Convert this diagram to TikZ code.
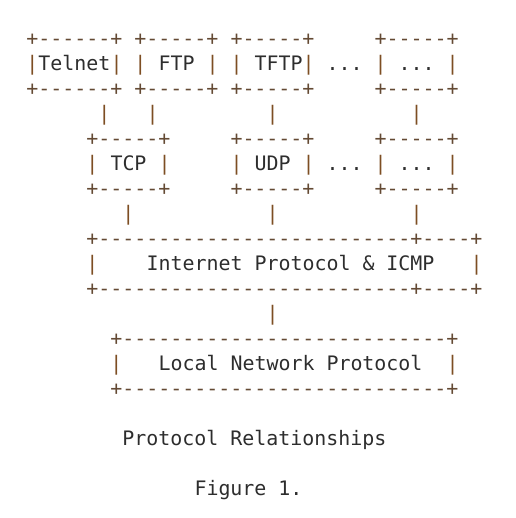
\documentclass[tikz,border=0pt]{standalone}
\usepackage{fontspec}
\setmonofont{DejaVu Sans Mono}
\usepackage{xcolor}
\definecolor{arttext}{RGB}{45,45,45}
\definecolor{artrule}{RGB}{100,74,52}
\definecolor{artpipe}{RGB}{125,78,35}
\tikzset{
  asciitext/.style={anchor=base west, inner sep=0pt, outer sep=0pt, text=arttext,
    font=\ttfamily\fontsize{14.95pt}{18pt}\selectfont},
  asciirule/.style={asciitext, text=artrule},
  asciipipe/.style={asciitext, text=artpipe}
}
\newcommand{\artbar}{\textcolor{artpipe}{|}}
% box as three lines of text: name, column, row, border, label
\newcommand{\artbox}[5]{%
  \node[asciirule] (#1-top) at (#2,#3) {#4};
  \node[asciitext] (#1) at (#2,#3+1) {\artbar#5\artbar};
  \node[asciirule] (#1-bot) at (#2,#3+2) {#4};
}

\begin{document}
\begin{tikzpicture}[x=9pt,y=-18.75pt]
  \useasboundingbox (-2.2083,-1.8) rectangle (40.7083,18.92);

  % applications
  \artbox{telnet}{0}{0}{+------+}{Telnet}
  \artbox{ftp}{9}{0}{+-----+}{~FTP~}
  \artbox{tftp}{17}{0}{+-----+}{~TFTP}
  \node[asciitext] (appgap) at (25,1) {...};
  \artbox{appmore}{29}{0}{+-----+}{~...~}

  % links to transport
  \foreach \c/\n in {6/telnettcp,10/ftptcp,20/tftpudp,32/appmoretp}
    \node[asciipipe] (\n) at (\c,3) {|};

  % transport
  \artbox{tcp}{5}{4}{+-----+}{~TCP~}
  \artbox{udp}{17}{4}{+-----+}{~UDP~}
  \node[asciitext] (tpgap) at (25,5) {...};
  \artbox{tpmore}{29}{4}{+-----+}{~...~}

  \foreach \c/\n in {8/tcpip,20/udpip,32/tpmoreip}
    \node[asciipipe] (\n) at (\c,7) {|};

  % internet
  \node[asciirule] (ip-top) at (5,8) {+--------------------------+----+};
  \node[asciitext] (ip) at (5,9) {\artbar~~~~Internet Protocol \& ICMP~~~\artbar};
  \node[asciirule] (ip-bot) at (5,10) {+--------------------------+----+};
  \node[asciipipe] (iplnp) at (20,11) {|};

  % local network
  \artbox{lnp}{7}{12}{+---------------------------+}{~~~Local Network Protocol~~}

  % caption
  \node[asciitext] (caption) at (8,16) {Protocol Relationships};
  \node[asciitext] (figno) at (14,18) {Figure 1.};
\end{tikzpicture}
\end{document}
